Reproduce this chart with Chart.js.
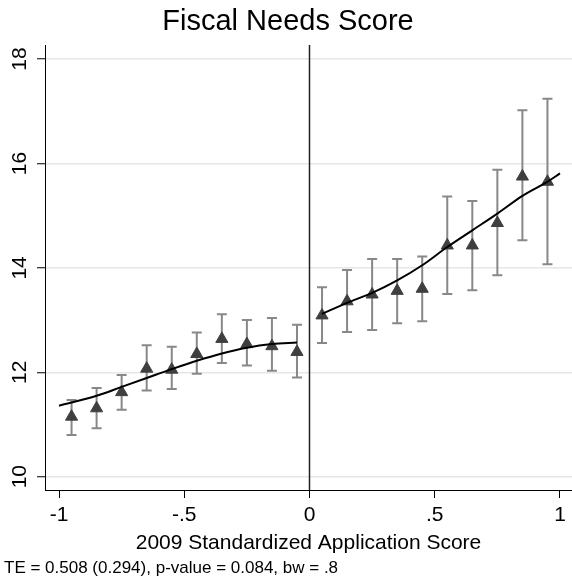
<!DOCTYPE html>
<html>
<head>
<meta charset="utf-8">
<script src="https://cdn.jsdelivr.net/npm/chart.js@4.4.1/dist/chart.umd.min.js"></script>
<style>
  html, body { margin: 0; padding: 0; background: #fff; }
  #wrap { width: 572px; height: 577px; }
</style>
</head>
<body>
<div id="wrap"><canvas id="rdChart" width="572" height="577"></canvas></div>
<script>
// bin means with 95% CI, 0.1-wide bins
const binX = [-0.95, -0.85, -0.75, -0.65, -0.55, -0.45, -0.35, -0.25, -0.15, -0.05,
              0.05, 0.15, 0.25, 0.35, 0.45, 0.55, 0.65, 0.75, 0.85, 0.95];
const binMean = [11.15, 11.31, 11.62, 12.07, 12.05, 12.35, 12.64, 12.54, 12.50, 12.39,
                 13.09, 13.36, 13.49, 13.56, 13.60, 14.43, 14.43, 14.86, 15.75, 15.65];
const ciHigh = [11.47, 11.70, 11.95, 12.52, 12.49, 12.76, 13.11, 13.00, 13.04, 12.91,
                13.63, 13.96, 14.17, 14.17, 14.22, 15.37, 15.28, 15.88, 17.02, 17.24];
const ciLow = [10.80, 10.93, 11.28, 11.65, 11.68, 11.97, 12.18, 12.13, 12.03, 11.90,
               12.56, 12.77, 12.81, 12.94, 12.98, 13.50, 13.57, 13.86, 14.53, 14.07];

// local polynomial fit on each side of the cutoff
const fitLeftX = [-1.0, -0.85, -0.75, -0.65, -0.55, -0.45, -0.35, -0.25, -0.15, -0.05];
const fitLeftY = [11.36, 11.55, 11.72, 11.89, 12.06, 12.22, 12.36, 12.47, 12.54, 12.57];
const fitRightX = [0.05, 0.15, 0.25, 0.35, 0.45, 0.55, 0.65, 0.75, 0.85, 0.95, 1.0];
const fitRightY = [13.12, 13.33, 13.52, 13.76, 14.05, 14.40, 14.72, 15.04, 15.38, 15.65, 15.81];

const cutoff = 0;
const xTicks = [-1, -0.5, 0, 0.5, 1];
const xTickLabels = ['-1', '-.5', '0', '.5', '1'];
const yTicks = [10, 12, 14, 16, 18];
const yTickLabels = ['10', '12', '14', '16', '18'];

const toPoints = (xs, ys) => xs.map((v, i) => ({ x: v, y: ys[i] }));

const rdExtras = {
    id: 'rdExtras',
    beforeDatasetsDraw(chart) {
        const { ctx, chartArea, scales: { x, y } } = chart;
        ctx.save();
        // cutoff line
        const cx = x.getPixelForValue(cutoff);
        ctx.strokeStyle = '#222';
        ctx.lineWidth = 1.5;
        ctx.beginPath();
        ctx.moveTo(cx, chartArea.top);
        ctx.lineTo(cx, chartArea.bottom);
        ctx.stroke();
        // confidence interval caps
        ctx.strokeStyle = '#888';
        ctx.lineWidth = 2;
        binX.forEach((v, i) => {
            const px = x.getPixelForValue(v);
            const hi = y.getPixelForValue(ciHigh[i]);
            const lo = y.getPixelForValue(ciLow[i]);
            ctx.beginPath();
            ctx.moveTo(px, hi); ctx.lineTo(px, lo);
            ctx.moveTo(px - 5, hi); ctx.lineTo(px + 5, hi);
            ctx.moveTo(px - 5, lo); ctx.lineTo(px + 5, lo);
            ctx.stroke();
        });
        ctx.restore();
    },
    afterDraw(chart) {
        // vertical y tick labels, Stata style
        const { ctx, scales: { y } } = chart;
        ctx.save();
        ctx.fillStyle = '#000';
        ctx.font = '21px "Liberation Sans", Arial, sans-serif';
        ctx.textAlign = 'center';
        ctx.textBaseline = 'middle';
        yTicks.forEach((v, i) => {
            ctx.save();
            ctx.translate(20, y.getPixelForValue(v));
            ctx.rotate(-Math.PI / 2);
            ctx.fillText(yTickLabels[i], 0, 0);
            ctx.restore();
        });
        ctx.restore();
    }
};

const font = '"Liberation Sans", Arial, sans-serif';

new Chart(document.getElementById('rdChart').getContext('2d'), {
    type: 'scatter',
    data: {
        datasets: [
            {
                label: 'fit left',
                data: toPoints(fitLeftX, fitLeftY),
                showLine: true,
                borderColor: '#000',
                borderWidth: 2,
                pointRadius: 0,
                cubicInterpolationMode: 'monotone'
            },
            {
                label: 'fit right',
                data: toPoints(fitRightX, fitRightY),
                showLine: true,
                borderColor: '#000',
                borderWidth: 2,
                pointRadius: 0,
                cubicInterpolationMode: 'monotone'
            },
            {
                label: 'bin means',
                data: toPoints(binX, binMean),
                pointStyle: 'triangle',
                pointRadius: 7,
                backgroundColor: '#3f3f3f',
                borderColor: '#3f3f3f',
                borderWidth: 1
            }
        ]
    },
    options: {
        responsive: false,
        animation: false,
        layout: { autoPadding: false, padding: { left: 4, right: 0, top: 0, bottom: 0 } },
        plugins: {
            legend: { display: false },
            tooltip: { enabled: false },
            title: {
                display: true,
                text: 'Fiscal Needs Score',
                color: '#000',
                font: { family: font, size: 29, weight: 'normal', lineHeight: 1.2 },
                padding: { top: 5, bottom: 5.2 }
            },
            subtitle: {
                display: true,
                position: 'bottom',
                align: 'start',
                text: 'TE = 0.508 (0.294), p-value = 0.084, bw = .8',
                color: '#000',
                font: { family: font, size: 17, weight: 'normal', lineHeight: 1.0 },
                padding: 0
            }
        },
        scales: {
            x: {
                type: 'linear',
                min: -1.056,
                max: 1.048,
                afterBuildTicks: (scale) => { scale.ticks = xTicks.map(v => ({ value: v })); },
                afterFit: (scale) => { scale.height = 70; scale.paddingLeft = 0; scale.paddingRight = 0; },
                ticks: {
                    color: '#000',
                    font: { family: font, size: 21 },
                    padding: 5,
                    maxRotation: 0,
                    callback: (v) => xTickLabels[xTicks.indexOf(v)]
                },
                grid: { drawOnChartArea: false, drawTicks: true, tickLength: 8, tickColor: '#000', tickWidth: 1 },
                border: { display: true, color: '#000', width: 1 },
                title: {
                    display: true,
                    text: '2009 Standardized Application Score',
                    color: '#000',
                    font: { family: font, size: 21 },
                    padding: { top: 0, bottom: 4 }
                }
            },
            y: {
                type: 'linear',
                min: 9.745,
                max: 18.27,
                afterBuildTicks: (scale) => { scale.ticks = yTicks.map(v => ({ value: v })); },
                afterFit: (scale) => { scale.width = 41; scale.paddingTop = 0; scale.paddingBottom = 0; },
                ticks: { display: false },
                grid: { color: '#e6e6e6', lineWidth: 1.5, drawTicks: true, tickLength: 8, tickColor: '#000', tickWidth: 1 },
                border: { display: true, color: '#000', width: 1 }
            }
        }
    },
    plugins: [rdExtras]
});
</script>
</body>
</html>
